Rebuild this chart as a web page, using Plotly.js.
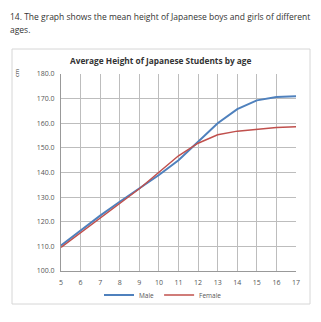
<!DOCTYPE html>
<html><head><meta charset="utf-8">
<script src="https://cdn.plot.ly/plotly-3.0.1.min.js"></script>
<style>html,body{margin:0;padding:0;background:#fff;}#chart{width:321px;height:322px;}</style>
</head><body><div id="chart"></div>
<script>
const ages = [5, 6, 7, 8, 9, 10, 11, 12, 13, 14, 15, 16, 17];
const maleHeights = [110.4, 116.5, 122.5, 128.1, 133.6, 139.0, 145.0, 152.5, 160.0, 165.7, 169.3, 170.7, 171.0];
const femaleHeights = [109.6, 115.6, 121.5, 127.3, 133.4, 140.1, 146.8, 151.9, 155.3, 156.8, 157.6, 158.3, 158.6];
const yTicks = [100, 110, 120, 130, 140, 150, 160, 170, 180];
const seriesNames = ['Male', 'Female'];
const chartTitle = 'Average Height of Japanese Students by age';
const questionLine1 = '14. The graph shows the mean height of Japanese boys and girls of different';
const questionLine2 = 'ages.';
const yUnit = 'cm';

const W = 321, H = 322, L = 61, R = 25, T = 74, B = 51;
const pw = W - L - R, ph = H - T - B;
const px = x => (x - L) / pw;
const py = y => (H - B - y) / ph;

const traces = [
  {x: ages, y: maleHeights, name: seriesNames[0], type: 'scatter', mode: 'lines',
   line: {color: '#4F81BD', width: 2}},
  {x: ages, y: femaleHeights, name: seriesNames[1], type: 'scatter', mode: 'lines',
   line: {color: '#C0504D', width: 1.5}}
];

const font = "'Open Sans', 'Noto Sans', sans-serif";
const layout = {
  width: W, height: H,
  margin: {l: L, r: R, t: T, b: B, pad: 0},
  paper_bgcolor: '#ffffff', plot_bgcolor: '#ffffff',
  font: {family: font, color: '#555', size: 7},
  showlegend: true,
  legend: {orientation: 'h', x: px(163), xanchor: 'center', y: py(295), yanchor: 'middle',
           font: {size: 6.5, color: '#555'}, itemwidth: 30, tracegroupgap: 0, bgcolor: 'rgba(0,0,0,0)'},
  xaxis: {range: [5, 17], tickvals: ages, ticktext: ages.map(String),
          showgrid: true, gridcolor: '#bdbdbd', gridwidth: 1,
          showline: true, linecolor: '#999', zeroline: false,
          ticks: 'outside', ticklen: 5, tickcolor: 'rgba(0,0,0,0)',
          tickfont: {size: 7, color: '#555'}, fixedrange: true},
  yaxis: {range: [100, 180], tickvals: yTicks, ticktext: yTicks.map(v => v.toFixed(1)),
          showgrid: true, gridcolor: '#bdbdbd', gridwidth: 1,
          showline: true, linecolor: '#999', zeroline: false,
          ticks: 'outside', ticklen: 4, tickcolor: 'rgba(0,0,0,0)',
          tickfont: {size: 7, color: '#555'}, fixedrange: true},
  shapes: [
    {type: 'rect', xref: 'paper', yref: 'paper', x0: px(12), x1: px(310), y0: py(304), y1: py(49),
     line: {color: '#d6d6d6', width: 1}, fillcolor: 'rgba(0,0,0,0)', layer: 'below'}
  ],
  annotations: [
    {text: questionLine1, xref: 'paper', yref: 'paper', x: px(8), y: py(16), xanchor: 'left', yanchor: 'middle',
     showarrow: false, font: {size: 8.5, color: '#333', family: font}},
    {text: questionLine2, xref: 'paper', yref: 'paper', x: px(8), y: py(29), xanchor: 'left', yanchor: 'middle',
     showarrow: false, font: {size: 8.5, color: '#333', family: font}},
    {text: '<b>' + chartTitle + '</b>', xref: 'paper', yref: 'paper', x: px(161), y: py(61), xanchor: 'center', yanchor: 'middle',
     showarrow: false, font: {size: 8.3, color: '#333', family: font}},
    {text: yUnit, xref: 'paper', yref: 'paper', x: px(17), y: py(73), xanchor: 'center', yanchor: 'middle',
     textangle: -90, showarrow: false, font: {size: 6, color: '#333', family: font}}
  ]
};

Plotly.newPlot('chart', traces, layout, {staticPlot: true, displayModeBar: false});
</script></body></html>
